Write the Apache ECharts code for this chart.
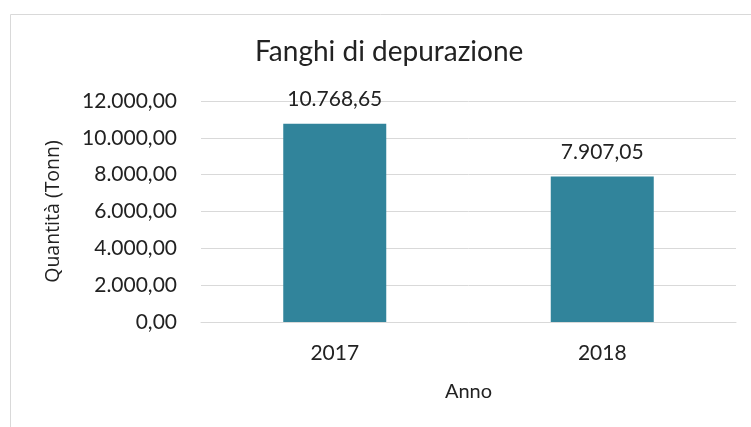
<!DOCTYPE html>
<html>
<head>
<meta charset="utf-8">
<script src="https://cdn.jsdelivr.net/npm/echarts@6/dist/echarts.min.js"></script>
<style>
  html, body { margin: 0; padding: 0; background: #fff; }
  #chart { width: 751px; height: 427px; }
</style>
</head>
<body>
<div id="chart"></div>
<script>
const anni = ['2017', '2018'];
const quantita = [10768.65, 7907.05];

// formato italiano: 12.000,00
function fmt(v) {
  const parts = Number(v).toFixed(2).split('.');
  parts[0] = parts[0].replace(/\B(?=(\d{3})+(?!\d))/g, '.');
  return parts.join(',');
}

const font = 'Lato, "Open Sans", sans-serif';
const chart = echarts.init(document.getElementById('chart'));

chart.setOption({
  animation: false,
  title: {
    text: 'Fanghi di depurazione',
    left: 250,
    top: 33,
    textStyle: { fontFamily: font, fontSize: 28, fontWeight: 'normal', color: '#222' }
  },
  graphic: [
    { type: 'line', shape: { x1: 10.5, y1: 14.5, x2: 751, y2: 14.5 }, style: { stroke: '#d9d9d9', lineWidth: 1 } },
    { type: 'line', shape: { x1: 10.5, y1: 14.5, x2: 10.5, y2: 427 }, style: { stroke: '#d9d9d9', lineWidth: 1 } }
  ],
  grid: { left: 201, right: 15, top: 101, bottom: 105 },
  xAxis: {
    type: 'category',
    data: anni,
    name: 'Anno',
    nameLocation: 'middle',
    nameGap: 60,
    nameTextStyle: { fontFamily: font, fontSize: 20, color: '#222' },
    axisTick: { show: false },
    axisLine: { lineStyle: { color: '#d9d9d9' } },
    axisLabel: { fontFamily: font, fontSize: 21, color: '#222', margin: 21 }
  },
  yAxis: {
    type: 'value',
    min: 0,
    max: 12000,
    interval: 2000,
    name: 'Quantità (Tonn)',
    nameLocation: 'middle',
    nameGap: 138,
    nameRotate: 90,
    nameTextStyle: { fontFamily: '"Open Sans", sans-serif', fontSize: 19.5, color: '#222' },
    axisLine: { show: false },
    axisTick: { show: false },
    axisLabel: { fontFamily: font, fontSize: 21, color: '#222', margin: 24, formatter: fmt },
    splitLine: { lineStyle: { color: '#d9d9d9' } }
  },
  series: [{
    type: 'bar',
    data: quantita,
    barWidth: 103,
    itemStyle: { color: '#31849b' },
    label: {
      show: true,
      position: 'top',
      distance: 14,
      fontFamily: font,
      fontSize: 21,
      color: '#222',
      formatter: p => fmt(p.value)
    }
  }]
});
</script>
</body>
</html>
